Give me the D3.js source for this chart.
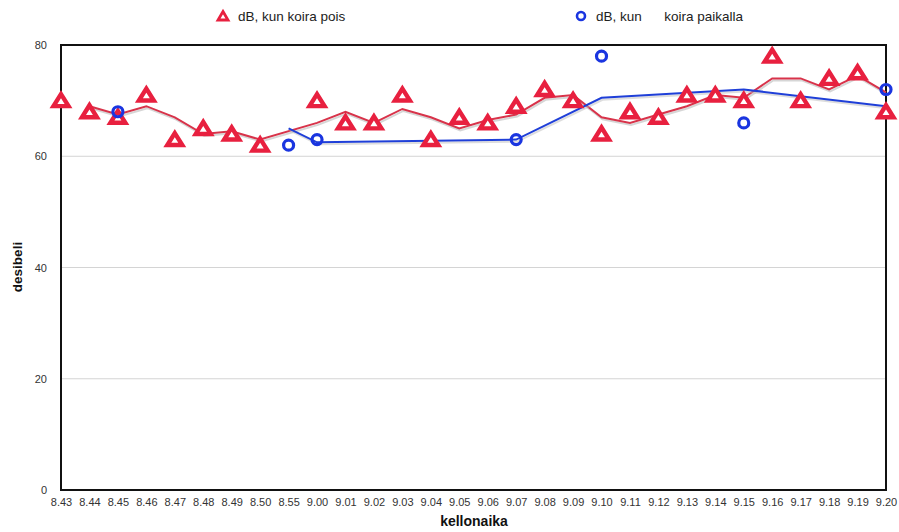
<!DOCTYPE html>
<html><head><meta charset="utf-8">
<script src="https://cdn.jsdelivr.net/npm/d3@7"></script>
<style>
body{margin:0;background:#fff;}
svg{font-family:"Liberation Sans",Arial,Helvetica,sans-serif;}
</style></head>
<body><svg id="c" width="899" height="532"></svg>
<script>
const categories = ["8.43","8.44","8.45","8.46","8.47","8.48","8.49","8.50","8.55","9.00","9.01","9.02","9.03","9.04","9.05","9.06","9.07","9.08","9.09","9.10","9.11","9.12","9.13","9.14","9.15","9.16","9.17","9.18","9.19","9.20"];
// dB, kun koira pois (null = no measurement)
const koiraPois = [70,68,67,71,63,65,64,62,null,70,66,66,71,63,67,66,69,72,70,64,68,67,71,71,70,78,70,74,75,68];
// dB, kun koira paikalla
const koiraPaikalla = [null,null,68,null,null,null,null,null,62,63,null,null,null,null,null,null,63,null,null,78,null,null,null,null,66,null,null,null,null,72];
const yTicks = [0,20,40,60,80];
const seriesNames = ["dB, kun koira pois","dB, kun      koira paikalla"];

const svg = d3.select("#c");
const L=61, R=886, T=45, B=490;
const x = d3.scalePoint().domain(categories).range([L,R]);
const y = d3.scaleLinear().domain([0,80]).range([B,T]);

// gridlines
svg.append("g").selectAll("line").data(yTicks.filter(t=>t>0&&t<80)).join("line")
  .attr("x1",L).attr("x2",R).attr("y1",d=>y(d)).attr("y2",d=>y(d))
  .attr("stroke","#d4d4d4").attr("stroke-width",1);

// frame
svg.append("rect").attr("x",L).attr("y",T).attr("width",R-L).attr("height",B-T)
  .attr("fill","none").attr("stroke","#111").attr("stroke-width",2);

// y axis labels
const yAxis = d3.axisLeft(y).tickValues(yTicks).tickSize(0).tickPadding(14);
const gy = svg.append("g").attr("transform",`translate(${L},0)`).call(yAxis);
gy.select(".domain").remove();
gy.selectAll("text").attr("font-size",11).attr("fill","#333").attr("font-family","Liberation Sans, Arial, sans-serif");

// x axis labels
const xAxis = d3.axisBottom(x).tickSize(0).tickPadding(8);
const gx = svg.append("g").attr("transform",`translate(0,${B})`).call(xAxis);
gx.select(".domain").remove();
gx.selectAll("text").attr("font-size",11).attr("fill","#333").attr("font-family","Liberation Sans, Arial, sans-serif");

// titles
svg.append("text").attr("x",474).attr("y",526).attr("text-anchor","middle")
  .attr("font-weight","bold").attr("font-size",14).attr("fill","#111").text("kellonaika");
svg.append("text").attr("transform","translate(22,267) rotate(-90)").attr("text-anchor","middle")
  .attr("font-weight","bold").attr("font-size",13.5).attr("fill","#111").text("desibeli");

// moving average trendline (period 2) over existing points
function movingAvg(vals){
  const pts = categories.map((c,i)=>({c,v:vals[i]})).filter(d=>d.v!=null);
  const out=[];
  for(let i=1;i<pts.length;i++) out.push({c:pts[i].c, v:(pts[i].v+pts[i-1].v)/2});
  return out;
}
const line = d3.line().x(d=>x(d.c)).y(d=>y(d.v));
const redC = "#e8203f", blueC = "#1a35e0";
const maRed = movingAvg(koiraPois), maBlue = movingAvg(koiraPaikalla);
svg.append("path").datum(maRed).attr("d",line).attr("fill","none")
  .attr("stroke","#bbb").attr("stroke-opacity",0.6).attr("stroke-width",2).attr("transform","translate(1,2)");
svg.append("path").datum(maRed).attr("d",line).attr("fill","none").attr("stroke","#d8334a").attr("stroke-width",2);
svg.append("path").datum(maBlue).attr("d",line).attr("fill","none")
  .attr("stroke","#bbb").attr("stroke-opacity",0.5).attr("stroke-width",2).attr("transform","translate(1,2)");
svg.append("path").datum(maBlue).attr("d",line).attr("fill","none").attr("stroke","#1f3fd8").attr("stroke-width",2);

// markers
const tri = "M0,-6.5L7.5,5.5L-7.5,5.5Z";
const dPois = categories.map((c,i)=>({c,v:koiraPois[i]})).filter(d=>d.v!=null);
const dPaik = categories.map((c,i)=>({c,v:koiraPaikalla[i]})).filter(d=>d.v!=null);
svg.append("g").selectAll("path").data(dPois).join("path")
  .attr("d",tri).attr("transform",d=>`translate(${x(d.c)},${y(d.v)})`)
  .attr("fill","#fff").attr("stroke",redC).attr("stroke-width",4.4).attr("stroke-linejoin","miter");
svg.append("g").selectAll("circle").data(dPaik).join("circle")
  .attr("cx",d=>x(d.c)).attr("cy",d=>y(d.v)).attr("r",5)
  .attr("fill","none").attr("stroke",blueC).attr("stroke-width",3.2);

// legend
svg.append("path").attr("d","M0,-4.5L5,4L-5,4Z").attr("transform","translate(223,16)")
  .attr("fill","#fff").attr("stroke",redC).attr("stroke-width",2.8);
svg.append("text").attr("x",238).attr("y",21).attr("font-size",13.5).attr("fill","#222").text(seriesNames[0]);
svg.append("circle").attr("cx",581).attr("cy",16).attr("r",4).attr("fill","none").attr("stroke",blueC).attr("stroke-width",2.6);
svg.append("text").attr("x",596).attr("y",21).attr("font-size",13.5).attr("fill","#222")
  .style("white-space","pre").text(seriesNames[1]);
</script></body></html>
